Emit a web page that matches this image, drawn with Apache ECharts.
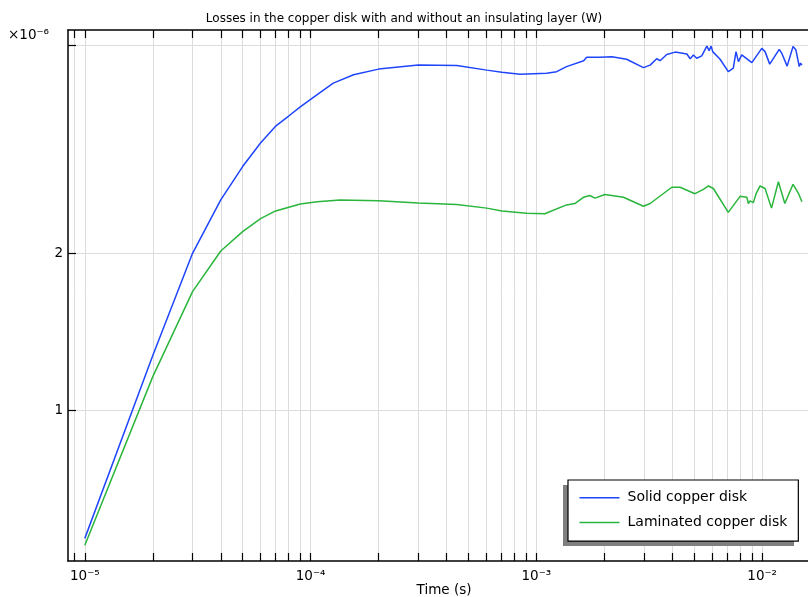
<!DOCTYPE html>
<html><head><meta charset="utf-8">
<script src="https://cdn.jsdelivr.net/npm/echarts@6/dist/echarts.min.js"></script>
<style>html,body{margin:0;padding:0;background:#fff}#c{width:808px;height:597px}</style>
</head><body><div id="c"></div>
<script>
// Time (s) and losses (in units of 1e-6 W)
const solidTime = [1.0e-5,2.0e-5,3.0e-5,4.0e-5,5.0e-5,6.0e-5,7.0e-5,8.0e-5,9.0e-5,1.0e-4,1.26e-4,1.55e-4,2.0e-4,3.0e-4,4.44e-4,6.03e-4,7.03e-4,8.47e-4,1.11e-3,1.23e-3,1.36e-3,1.62e-3,1.67e-3,1.91e-3,2.16e-3,2.51e-3,2.98e-3,3.19e-3,3.41e-3,3.53e-3,3.78e-3,4.12e-3,4.64e-3,4.80e-3,4.96e-3,5.13e-3,5.40e-3,5.69e-3,5.82e-3,5.94e-3,6.04e-3,6.51e-3,7.08e-3,7.45e-3,7.66e-3,7.85e-3,8.12e-3,9.0e-3,9.96e-3,1.03e-2,1.08e-2,1.19e-2,1.22e-2,1.29e-2,1.37e-2,1.41e-2,1.43e-2,1.46e-2,1.48e-2,1.50e-2];
const solidLoss = [0.570,1.275,2.00,2.53,2.93,3.25,3.50,3.66,3.81,3.94,4.23,4.39,4.50,4.58,4.57,4.48,4.44,4.40,4.42,4.45,4.55,4.67,4.74,4.74,4.75,4.70,4.53,4.58,4.71,4.67,4.80,4.85,4.81,4.71,4.79,4.72,4.77,4.98,4.88,4.98,4.86,4.70,4.45,4.52,4.86,4.65,4.79,4.63,4.93,4.86,4.60,4.91,4.83,4.56,4.97,4.90,4.93,4.55,4.62,4.58];
const lamTime = [1.0e-5,2.0e-5,3.0e-5,4.0e-5,5.0e-5,6.0e-5,7.0e-5,9.0e-5,1.07e-4,1.35e-4,2.0e-4,3.0e-4,4.44e-4,6.03e-4,7.03e-4,9.06e-4,1.09e-3,1.36e-3,1.48e-3,1.62e-3,1.72e-3,1.82e-3,2.01e-3,2.43e-3,2.98e-3,3.19e-3,3.98e-3,4.33e-3,5.04e-3,5.49e-3,5.78e-3,6.08e-3,7.08e-3,7.98e-3,8.55e-3,8.69e-3,8.84e-3,9.14e-3,9.40e-3,9.79e-3,1.03e-2,1.10e-2,1.18e-2,1.26e-2,1.37e-2,1.45e-2,1.50e-2];
const lamLoss = [0.553,1.162,1.689,2.02,2.20,2.33,2.41,2.485,2.51,2.53,2.52,2.496,2.48,2.44,2.41,2.385,2.38,2.475,2.49,2.56,2.58,2.55,2.59,2.56,2.46,2.49,2.675,2.675,2.60,2.65,2.69,2.66,2.395,2.57,2.56,2.49,2.52,2.50,2.60,2.69,2.66,2.44,2.74,2.49,2.71,2.60,2.51];

const xLabelExps = [-5, -4, -3, -2];
const yTickValues = [1, 2, 5];
const yLabelValues = [1, 2];
const seriesNames = ['Solid copper disk', 'Laminated copper disk'];

const L = Math.log10;
const xMin = -5.0745, xMax = -1.797;
const yMin = -0.2874, yMax = 0.728;

const xTicks = [];
for (let d = -6; d <= -2; d++) for (let k = 1; k <= 9; k++) {
  const v = L(k) + d;
  if (v >= xMin && v <= xMax) xTicks.push(v);
}
const supMap = {'-':'⁻','0':'⁰','1':'¹','2':'²','3':'³','4':'⁴','5':'⁵','6':'⁶','7':'⁷','8':'⁸','9':'⁹'};
const sup = s => String(s).split('').map(c => supMap[c]).join('');

const font = 'DejaVu Sans';
const pair = (ts, vs) => ts.map((t, i) => [L(t), L(vs[i])]);

const chart = echarts.init(document.getElementById('c'), null, {renderer: 'canvas'});
chart.setOption({
  animation: false,
  backgroundColor: '#fff',
  title: {
    text: 'Losses in the copper disk with and without an insulating layer (W)',
    left: 'center', top: 8,
    textStyle: {fontFamily: font, fontSize: 12, fontWeight: 'normal', color: '#000'}
  },
  graphic: [{
    type: 'text', left: 8, top: 28,
    style: {text: '×10' + sup(-6), font: '13.5px "DejaVu Sans"', fill: '#000'}
  }, {
    type: 'rect', left: 563, top: 485, z: 1,
    shape: {width: 231, height: 61},
    style: {fill: '#7f7f7f'}
  }],
  grid: {left: 68, right: 0, top: 30, bottom: 36, outerBoundsMode: 'none', containLabel: false},
  legend: {
    orient: 'vertical', left: 568, top: 480, z: 5,
    data: seriesNames,
    icon: 'rect', itemWidth: 40, itemHeight: 1.5, itemGap: 10.7,
    padding: [10.7, 11, 11.7, 11.5],
    backgroundColor: '#fff', borderColor: '#000', borderWidth: 1.2,
    textStyle: {fontFamily: font, fontSize: 14, color: '#000', lineHeight: 14, padding: [0, 0, 0, 3]}
  },
  xAxis: [{
    type: 'value', min: xMin, max: xMax, position: 'bottom',
    name: 'Time (s)', nameLocation: 'middle', nameGap: 22, nameMoveOverlap: false,
    nameTextStyle: {fontFamily: font, fontSize: 13.5, color: '#000', padding: [0, 0, 0, 12]},
    axisLine: {show: true, onZero: false, lineStyle: {color: '#000', width: 1.5}},
    axisTick: {show: true, inside: true, length: 8, customValues: xTicks, lineStyle: {color: '#000', width: 1.2}},
    axisLabel: {show: true, customValues: xLabelExps, margin: 8, formatter: v => '10' + sup(Math.round(v)),
      fontFamily: font, fontSize: 13.5, color: '#000'},
    splitLine: {show: true, lineStyle: {color: '#dcdcdc', width: 1}}
  }, {
    type: 'value', min: xMin, max: xMax, position: 'top',
    axisLine: {show: true, onZero: false, lineStyle: {color: '#000', width: 1.5}},
    axisTick: {show: true, inside: true, length: 8, customValues: xTicks, lineStyle: {color: '#000', width: 1.2}},
    axisLabel: {show: false},
    splitLine: {show: false}
  }],
  yAxis: [{
    type: 'value', min: yMin, max: yMax, position: 'left',
    axisLine: {show: true, onZero: false, lineStyle: {color: '#000', width: 1.5}},
    axisTick: {show: true, inside: true, length: 8, customValues: yTickValues.map(L), lineStyle: {color: '#000', width: 1.2}},
    axisLabel: {show: true, customValues: yLabelValues.map(L), margin: 5,
      formatter: v => String(Math.round(Math.pow(10, v))),
      fontFamily: font, fontSize: 13.5, color: '#000'},
    splitLine: {show: true, lineStyle: {color: '#dcdcdc', width: 1}}
  }],
  series: [{
    name: seriesNames[0], type: 'line', showSymbol: false, symbol: 'none',
    data: pair(solidTime, solidLoss),
    itemStyle: {color: '#1f45fc'}, lineStyle: {color: '#1f45fc', width: 1.5}
  }, {
    name: seriesNames[1], type: 'line', showSymbol: false, symbol: 'none',
    data: pair(lamTime, lamLoss),
    itemStyle: {color: '#2ab53c'}, lineStyle: {color: '#2ab53c', width: 1.5}
  }]
});
</script></body></html>
